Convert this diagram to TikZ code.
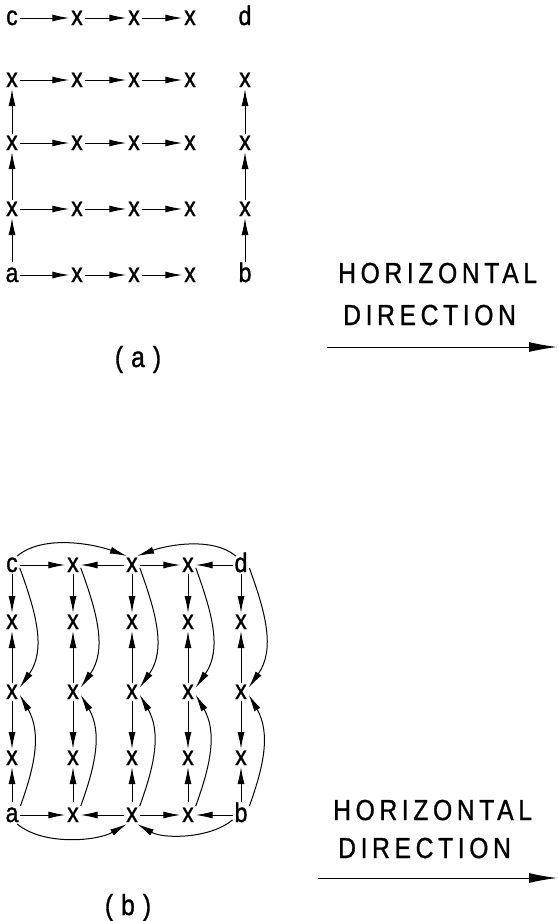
\documentclass[tikz,border=0pt]{standalone}
\usepackage{fontspec}
\setmainfont{Liberation Sans}
\newfontfamily\gridfont[FakeStretch=0.85,FakeBold=1.2]{Liberation Sans}
\newfontfamily\capfont[FakeStretch=0.85,FakeBold=1,LetterSpace=16]{Liberation Sans}
\usetikzlibrary{arrows.meta}

\begin{document}
\begin{tikzpicture}[x=1pt,y=1pt,
  gridpt/.style={inner sep=2pt,outer sep=0pt,text height=14pt,text depth=0pt,font=\gridfont\fontsize{27}{27}\selectfont},
  arrow/.style={-{Latex[length=17pt,width=7pt]},line width=1pt},
  dirarrow/.style={-{Latex[length=28pt,width=10pt]},line width=1pt},
  caption/.style={inner sep=0pt,anchor=base west,font=\capfont\fontsize{29}{29}\selectfont}
]
  \useasboundingbox (0,0) rectangle (557,-921);

  % (a) sample points
  \foreach \i/\x in {2/77,3/134,4/190}
    \foreach \j/\y in {1/18,2/80,3/143,4/209,5/275}
      \node[gridpt] (A\i\j) at (\x,-\y) {x};
  \foreach \i/\x in {1/12,5/245}
    \foreach \j/\y in {2/80,3/143,4/209}
      \node[gridpt] (A\i\j) at (\x,-\y) {x};
  \node[gridpt] (A11) at (12,-18) {c};
  \node[gridpt] (A51) at (245,-18) {d};
  \node[gridpt] (A15) at (12,-275) {a};
  \node[gridpt] (A55) at (245,-275) {b};

  \foreach \j in {1,...,5}
    \foreach \p/\q in {1/2,2/3,3/4}
      \draw[arrow] (A\p\j) -- (A\q\j);
  \foreach \i in {1,5} {
    \draw[arrow,shorten <=4pt] (A\i5) -- (A\i4);
    \draw[arrow] (A\i4) -- (A\i3);
    \draw[arrow] (A\i3) -- (A\i2);
  }

  \node[caption,anchor=base] (capA) at (138,-367) {(\hspace{8pt}a\hspace{8pt})};
  \node[caption] (hzA) at (338,-283) {HORIZONTAL};
  \node[caption] (dirA) at (343,-325) {DIRECTION};
  \coordinate (dirA0) at (327,-347);
  \coordinate (dirA1) at (557,-347);
  \draw[dirarrow] (dirA0) -- (dirA1);

  % (b) sample points
  \foreach \i/\x in {2/73,3/132,4/188}
    \foreach \j/\y in {1/565,2/622,3/692,4/758,5/815}
      \node[gridpt] (B\i\j) at (\x,-\y) {x};
  \foreach \i/\x in {1/12,5/241}
    \foreach \j/\y in {2/622,3/692,4/758}
      \node[gridpt] (B\i\j) at (\x,-\y) {x};
  \node[gridpt] (B11) at (12,-565) {c};
  \node[gridpt] (B51) at (241,-565) {d};
  \node[gridpt] (B15) at (12,-815) {a};
  \node[gridpt] (B55) at (241,-815) {b};

  \foreach \i in {1,...,5} {
    \draw[arrow] (B\i1) -- (B\i2);
    \draw[arrow] (B\i3) -- (B\i2);
    \draw[arrow] (B\i3) -- (B\i4);
    \draw[arrow,shorten <=4pt] (B\i5) -- (B\i4);
    \draw[arrow] (B\i1.-20) to[out=-70,in=55] (B\i3.30);
    \draw[arrow] (B\i5.north east) to[out=70,in=-60] (B\i3.-20);
  }
  \foreach \j in {1,5} {
    \draw[arrow] (B1\j) -- (B2\j);
    \draw[arrow] (B3\j) -- (B2\j);
    \draw[arrow] (B3\j) -- (B4\j);
    \draw[arrow] (B5\j) -- (B4\j);
  }
  \draw[arrow] (B11.60) to[out=40,in=160,looseness=0.8] (B31.120);
  \draw[arrow] (B51.120) to[out=140,in=20,looseness=0.8] (B31.60);
  \draw[arrow] (B15.-60) to[out=-40,in=-150,looseness=0.8] (B35.-120);
  \draw[arrow] (B55.-150) to[out=-140,in=-30,looseness=0.8] (B35.-60);

  \node[caption,anchor=base] (capB) at (128,-915) {(\hspace{8pt}b\hspace{8pt})};
  \node[caption] (hzB) at (333,-820) {HORIZONTAL};
  \node[caption] (dirB) at (338,-858) {DIRECTION};
  \coordinate (dirB0) at (318,-878);
  \coordinate (dirB1) at (557,-878);
  \draw[dirarrow] (dirB0) -- (dirB1);
\end{tikzpicture}
\end{document}
